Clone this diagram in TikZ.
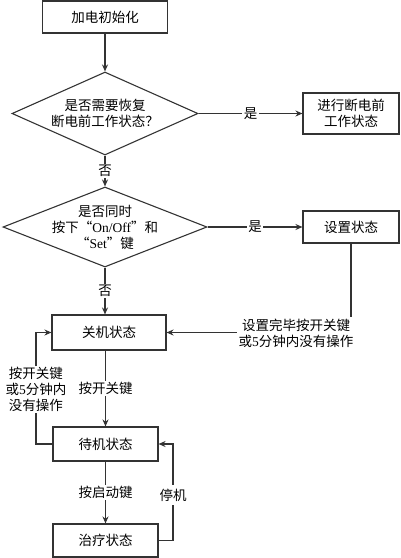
\documentclass[tikz,border=0pt]{standalone}
\usepackage{fontspec}
\setmainfont{Noto Sans CJK SC}
\newfontfamily\en{Liberation Serif}
\usetikzlibrary{shapes.geometric,arrows.meta,positioning}

\begin{document}
\begin{tikzpicture}[x=1pt, y=-1pt,
  font=\fontsize{13.5}{16}\selectfont,
  box/.style={draw=black!80, line width=1.1pt, inner sep=0pt, align=center},
  decision/.style={draw=black!80, line width=1.1pt, diamond, inner sep=0pt},
  flow/.style={draw=black!80, line width=1.1pt, -{Stealth[length=7pt,width=6pt]}},
  link/.style={draw=black!80, line width=1.1pt},
  lbl/.style={fill=white, inner sep=1.5pt, align=center}]
  \useasboundingbox (0,0) rectangle (400,558);

  % Start and first question
  \node[box, minimum width=125pt, minimum height=32pt] (init) at (105,17) {加电初始化};
  \node[decision, minimum width=186pt, minimum height=83pt] (ask1) at (105,113.5) {};
  \node[align=center] (ask1txt) at (ask1) {是否需要恢复\\断电前工作状态？};
  \node[box, minimum width=96pt, minimum height=41pt] (resume) at (351,113.5)
        {进行断电前\\工作状态};

  % Second question
  \node[decision, minimum width=204pt, minimum height=80pt] (ask2) at (105,227) {};
  \node[align=center] (ask2txt) at (ask2)
        {是否同时\\按下“{\en On/Off}”和\\“{\en Set}”键};
  \node[box, minimum width=96pt, minimum height=32pt] (setup) at (351,227) {设置状态};

  % States
  \node[box, minimum width=114pt, minimum height=35pt] (off) at (109,332.5) {关机状态};
  \node[box, minimum width=105pt, minimum height=34pt] (standby) at (105.5,444) {待机状态};
  \node[box, minimum width=105pt, minimum height=33pt] (therapy) at (105.5,540.5) {治疗状态};

  % Free labels on the loops
  \node[lbl] (setdone) at (296,333) {设置完毕按开关键\\或{\en 5}分钟内没有操作};
  \node[lbl] (timeout) at (36,389.5) {按开关键\\或{\en 5}分钟内\\没有操作};
  \node[lbl, inner ysep=4pt] (halt) at (173,495) {停机};

  % Main flow
  \draw[flow] (init) -- (ask1);
  \draw[flow] (ask1) -- node[lbl] {是} (resume);
  \draw[flow] (ask1) -- node[lbl] {否} (ask2);
  \draw[flow] (ask2) -- node[lbl] {是} (setup);
  \draw[flow] (ask2.south) -- node[lbl] {否} (ask2.south |- off.north);
  \draw[flow] (standby.north |- off.south) -- node[lbl] {按开关键} (standby.north);
  \draw[flow] (standby) -- node[lbl] {按启动键} (therapy);

  % Return paths
  \draw[link] (setup.south) -- (setup.south |- setdone.north);
  \draw[flow] (setdone.west |- off.east) -- (off.east);
  \draw[link] (standby.west) -| (timeout.south);
  \draw[flow] (timeout.north) |- (off.west);
  \draw[link] (therapy.east) -| (halt.south);
  \draw[flow] (halt.north) |- (standby.east);
\end{tikzpicture}
\end{document}
